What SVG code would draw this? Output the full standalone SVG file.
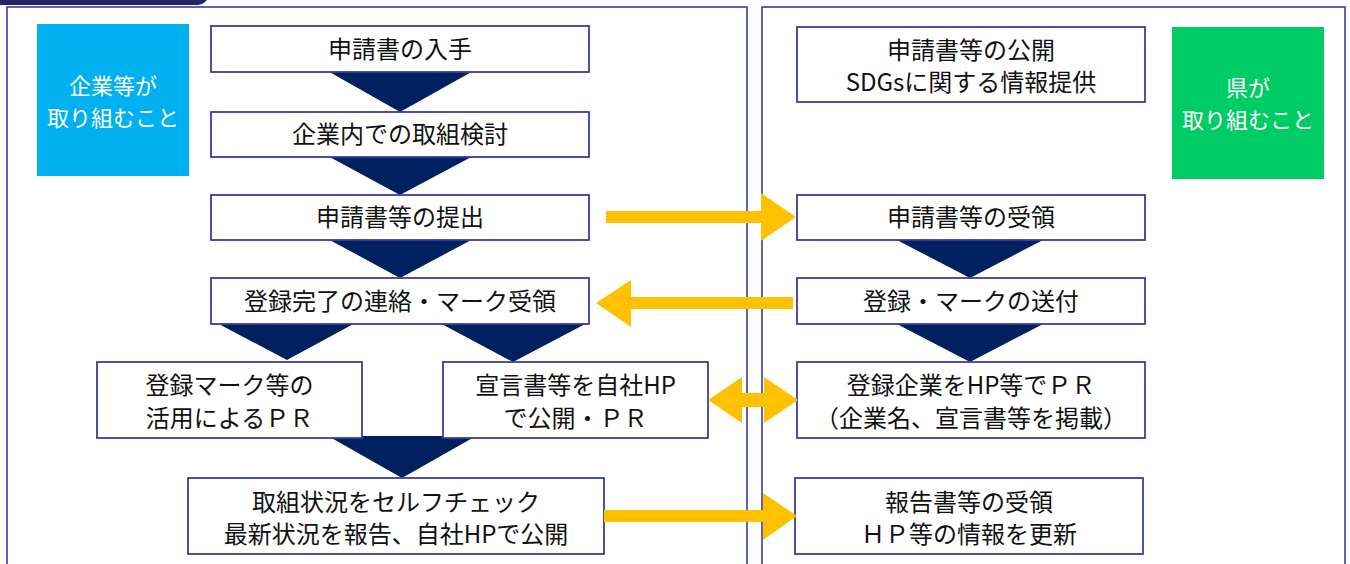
<svg xmlns="http://www.w3.org/2000/svg" width="1350" height="564" viewBox="0 0 1350 564">
<style>
.panel{fill:none;stroke:#3B3BA3;stroke-width:1.6}
.box{fill:#fff;stroke:#3B3BA3;stroke-width:1.8}
.chev{fill:#002060}
.arr{fill:#FFC000}
.t{font-family:"Noto Sans CJK JP","Noto Sans",sans-serif;font-size:24px;fill:#111;text-anchor:middle}
.w{font-family:"Noto Sans CJK JP","Noto Sans",sans-serif;font-size:22px;fill:#fff;text-anchor:middle}
</style>
<rect width="1350" height="564" fill="#fff"/>
<g id="panels">
<rect x="-10" y="-30" width="218" height="35" rx="10" fill="#24226B"/>
<rect class="panel" x="7" y="7" width="740" height="580"/>
<rect class="panel" x="762" y="7" width="583" height="580"/>
</g>
<g id="chevrons">
<polygon class="chev" points="326,70 475,70 400,112"/>
<polygon class="chev" points="326,155 475,155 400,195"/>
<polygon class="chev" points="326,238 475,238 400,278"/>
<polygon class="chev" points="215,322 357,322 287,360"/>
<polygon class="chev" points="438,322 589,322 513,362"/>
<polygon class="chev" points="328,436 476,436 402,478"/>
<polygon class="chev" points="893,238 1047,238 970,278"/>
<polygon class="chev" points="893,322 1047,322 970,362"/>
</g>
<g id="label-company">
<rect x="37" y="24" width="152" height="152" fill="#00B0F0"/>
<text class="w" x="113" y="94">企業等が</text>
<text class="w" x="113" y="126">取り組むこと</text>
</g>
<g id="label-pref">
<rect x="1172" y="27" width="152" height="152" fill="#00CC66"/>
<text class="w" x="1248" y="96">県が</text>
<text class="w" x="1248" y="128">取り組むこと</text>
</g>
<g id="n1"><rect class="box" x="211" y="26" width="378" height="46"/><text class="t" x="400" y="58">申請書の入手</text></g>
<g id="n2"><rect class="box" x="211" y="112" width="378" height="45"/><text class="t" x="400" y="143">企業内での取組検討</text></g>
<g id="n3"><rect class="box" x="211" y="195" width="378" height="45"/><text class="t" x="400" y="226">申請書等の提出</text></g>
<g id="n4"><rect class="box" x="211" y="278" width="378" height="46"/><text class="t" x="400" y="310">登録完了の連絡・マーク受領</text></g>
<g id="n5"><rect class="box" x="97" y="362" width="265" height="76"/><text class="t" x="229.5" y="394">登録マーク等の</text><text class="t" x="229.5" y="427">活用によるＰＲ</text></g>
<g id="n6"><rect class="box" x="443" y="362" width="265" height="76"/><text class="t" x="575.5" y="394">宣言書等を自社HP</text><text class="t" x="575.5" y="427">で公開・ＰＲ</text></g>
<g id="n7"><rect class="box" x="188" y="478" width="416" height="76"/><text class="t" x="396" y="511">取組状況をセルフチェック</text><text class="t" x="396" y="543">最新状況を報告、自社HPで公開</text></g>
<g id="r1"><rect class="box" x="797" y="27" width="348" height="75"/><text class="t" x="971" y="59">申請書等の公開</text><text class="t" x="971" y="91">SDGsに関する情報提供</text></g>
<g id="r2"><rect class="box" x="797" y="195" width="348" height="45"/><text class="t" x="971" y="226">申請書等の受領</text></g>
<g id="r3"><rect class="box" x="797" y="278" width="348" height="46"/><text class="t" x="971" y="310">登録・マークの送付</text></g>
<g id="r4"><rect class="box" x="797" y="362" width="348" height="76"/><text class="t" x="971" y="394">登録企業をHP等でＰＲ</text><text class="t" x="971" y="427">（企業名、宣言書等を掲載）</text></g>
<g id="r5"><rect class="box" x="795" y="478" width="348" height="76"/><text class="t" x="969" y="511">報告書等の受領</text><text class="t" x="969" y="543">ＨＰ等の情報を更新</text></g>
<g id="connectors">
<polygon class="arr" points="606,211 761,211 761,193 796,217 761,241 761,223 606,223"/>
<polygon class="arr" points="793,297 631,297 631,280 596,303 631,327 631,309 793,309"/>
<polygon class="arr" points="708,400 742,377 742,393 764,393 764,377 798,400 764,423 764,407 742,407 742,423"/>
<polygon class="arr" points="604,510 763,510 763,493 797,516 763,540 763,522 604,522"/>
</g>
</svg>
